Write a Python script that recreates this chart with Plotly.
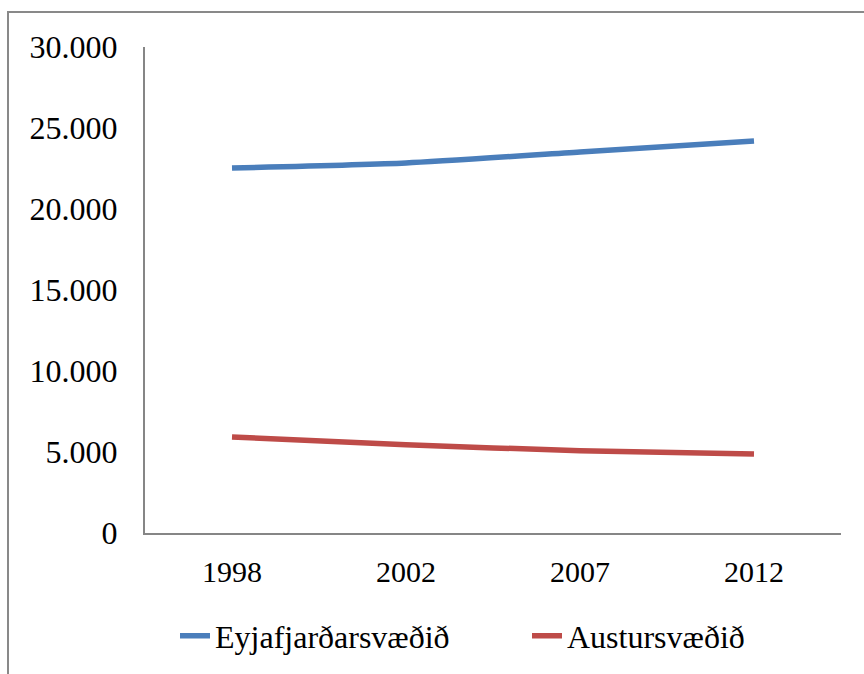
import plotly.graph_objects as go

years = ["1998", "2002", "2007", "2012"]
eyja = [22530, 22840, 23520, 24200]
austur = [5930, 5450, 5080, 4880]
ytick_vals = [0, 5000, 10000, 15000, 20000, 25000, 30000]
ytick_text = ["0", "5.000", "10.000", "15.000", "20.000", "25.000", "30.000"]

W, H = 864, 674
L, R, T, B = 145, 23, 47, 141
pw, ph = W - L - R, H - T - B

def px_x(p):
    return (p - L) / pw

def px_y(p):
    return (H - B - p) / ph

fig = go.Figure()
fig.add_trace(go.Scatter(x=years, y=eyja, mode="lines", name="Eyjafjarðarsvæðið",
                         legend="legend",
                         line=dict(color="#4a7ebb", width=5.5, shape="spline", smoothing=0.6)))
fig.add_trace(go.Scatter(x=years, y=austur, mode="lines", name="Austursvæðið",
                         legend="legend2",
                         line=dict(color="#be4b48", width=5.5, shape="spline", smoothing=0.6)))

font = dict(family="Liberation Serif", size=32, color="#000000")
xfont = dict(family="Liberation Serif", size=30, color="#000000")

leg_common = dict(orientation="h", xanchor="left", yanchor="middle", font=font,
                  bgcolor="rgba(0,0,0,0)")

fig.update_layout(
    width=W, height=H,
    margin=dict(l=L, r=R, t=T, b=B, autoexpand=False),
    paper_bgcolor="white", plot_bgcolor="white",
    font=font,
    showlegend=True,
    legend=dict(x=px_x(175), y=px_y(636), **leg_common),
    legend2=dict(x=px_x(527), y=px_y(636), **leg_common),
    xaxis=dict(type="category", range=[-0.5, 3.5], showgrid=False, zeroline=False,
               showline=True, linecolor="#868686", linewidth=2, ticks="",
               tickfont=xfont, ticklabelstandoff=11),
    yaxis=dict(range=[0, 30000], showgrid=False, zeroline=False, showline=True,
               linecolor="#868686", linewidth=2, ticks="", tickvals=ytick_vals,
               ticktext=ytick_text, tickfont=font, ticklabelstandoff=19),
    shapes=[dict(type="rect", xref="paper", yref="paper",
                 x0=px_x(8), x1=px_x(880), y0=px_y(700), y1=px_y(12),
                 line=dict(color="#898989", width=2), fillcolor="rgba(0,0,0,0)", layer="below")],
)

fig.write_html("out.html", config={"displayModeBar": False},
               post_script="document.body.style.margin='0';document.body.style.padding='0';")
